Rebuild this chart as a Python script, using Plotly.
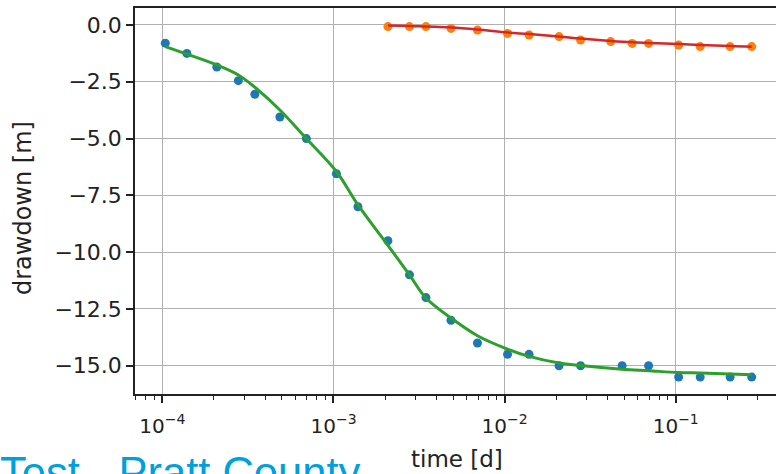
import plotly.graph_objects as go

# observation times [d] and drawdowns [m]
t_obs1 = [1.04e-4, 1.39e-4, 2.08e-4, 2.78e-4, 3.47e-4, 4.86e-4, 6.94e-4, 1.04e-3,
          1.39e-3, 2.08e-3, 2.78e-3, 3.47e-3, 4.86e-3, 6.94e-3, 1.04e-2, 1.39e-2,
          2.08e-2, 2.78e-2, 4.86e-2, 6.94e-2, 0.104, 0.139, 0.208, 0.278]
s_obs1 = [-0.8, -1.25, -1.85, -2.45, -3.05, -4.05, -5.0, -6.55, -8.0, -9.5, -11.0, -12.0,
          -13.0, -14.0, -14.5, -14.5, -15.0, -15.0, -15.0, -15.0, -15.5, -15.5, -15.5, -15.5]
s_mod1 = [-0.95, -1.28, -1.76, -2.2, -2.74, -3.74, -5.0, -6.45, -7.92, -9.7, -11.0, -12.02,
          -12.9, -13.68, -14.27, -14.59, -14.88, -14.99, -15.15, -15.22, -15.3, -15.32, -15.37, -15.4]

t_obs2 = [2.08e-3, 2.78e-3, 3.47e-3, 4.86e-3, 6.94e-3, 1.04e-2, 1.39e-2, 2.08e-2,
          2.78e-2, 4.17e-2, 5.56e-2, 6.94e-2, 0.104, 0.139, 0.208, 0.278]
s_obs2 = [-0.07, -0.07, -0.07, -0.15, -0.22, -0.37, -0.44, -0.51, -0.66, -0.73, -0.81, -0.81,
          -0.88, -0.95, -0.95, -0.95]
s_mod2 = [-0.02, -0.04, -0.07, -0.11, -0.2, -0.33, -0.4, -0.51, -0.6, -0.7, -0.76, -0.79,
          -0.84, -0.88, -0.92, -0.96]

x_tickvals = [1e-4, 1e-3, 1e-2, 1e-1]
x_ticktext = ["10<sup>−4</sup>", "10<sup>−3</sup>", "10<sup>−2</sup>", "10<sup>−1</sup>"]
x_minor_vals = [m * 10.0 ** e for e in (-5, -4, -3, -2, -1) for m in range(2, 10)]
y_tickvals = [0.0, -2.5, -5.0, -7.5, -10.0, -12.5, -15.0]
y_ticktext = ["0.0", "−2.5", "−5.0", "−7.5", "−10.0", "−12.5", "−15.0"]

W, H = 776, 474
L, T, R, B = 135, 8, 0, 80
pw, ph = W - L - R, H - T - B

fig = go.Figure()
fig.add_trace(go.Scatter(x=t_obs1, y=s_obs1, mode="markers",
                         marker=dict(color="#1f77b4", size=9), showlegend=False))
fig.add_trace(go.Scatter(x=t_obs2, y=s_obs2, mode="markers",
                         marker=dict(color="#ff7f0e", size=9), showlegend=False))
fig.add_trace(go.Scatter(x=t_obs1, y=s_mod1, mode="lines", line_shape="spline",
                         line=dict(color="#2ca02c", width=3), showlegend=False))
fig.add_trace(go.Scatter(x=t_obs2, y=s_mod2, mode="lines", line_shape="spline",
                         line=dict(color="#d62728", width=2.5), showlegend=False))

font = "DejaVu Sans"
fig.update_layout(
    width=W, height=H,
    margin=dict(l=L, r=R, t=T, b=B, pad=0),
    paper_bgcolor="white", plot_bgcolor="white",
    font=dict(family=font, size=20, color="#222222"),
    xaxis=dict(type="log", range=[-4.16, -0.414],
               tickvals=x_tickvals, ticktext=x_ticktext,
               ticks="outside", ticklen=7, tickwidth=1.5, tickcolor="#222222",
               ticklabelstandoff=6,
               showline=True, linecolor="#222222", linewidth=1.5, mirror=True,
               showgrid=True, gridcolor="#b0b0b0", gridwidth=1.3,
               zeroline=False,
               tickfont=dict(family=font, size=20, color="#222222"),
               minor=dict(tickmode="array", tickvals=x_minor_vals,
                          ticks="outside", ticklen=4, tickwidth=1.2,
                          tickcolor="#222222", showgrid=False)),
    yaxis=dict(range=[-16.245, 0.748],
               tickvals=y_tickvals, ticktext=y_ticktext,
               ticks="outside", ticklen=7, tickwidth=1.5, tickcolor="#222222",
               showline=True, linecolor="#222222", linewidth=1.5, mirror=False,
               showgrid=True, gridcolor="#b0b0b0", gridwidth=1.3,
               zeroline=False,
               tickfont=dict(family=font, size=22, color="#222222")),
)

fig.add_annotation(text="time [d]", xref="paper", yref="paper",
                   x=(457 - L) / pw, y=(H - B - 459) / ph, xanchor="center", yanchor="middle",
                   showarrow=False, font=dict(family=font, size=23, color="#222222"))
fig.add_annotation(text="drawdown [m]", xref="paper", yref="paper",
                   x=(23 - L) / pw, y=(H - B - 208) / ph, xanchor="center", yanchor="middle",
                   textangle=-90, showarrow=False,
                   font=dict(family=font, size=24, color="#222222"))
fig.add_annotation(text="Test - Pratt County", xref="paper", yref="paper",
                   x=(-2 - L) / pw, y=(H - B - 447) / ph, xanchor="left", yanchor="top",
                   showarrow=False,
                   font=dict(family="Liberation Sans", size=43.5, color="#00a0dc"))

fig.write_html("out.html")
